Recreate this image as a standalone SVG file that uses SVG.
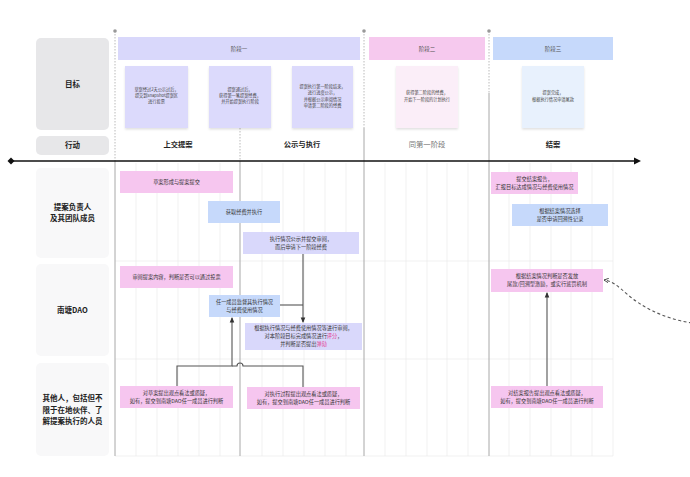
<svg xmlns="http://www.w3.org/2000/svg" width="690" height="477" viewBox="0 0 690 477">
<style>
text{font-family:"Noto Sans CJK SC","Noto Sans",sans-serif;fill:#333;text-anchor:middle}
.t{font-size:5.2px}
.c{font-size:4.2px;fill:#444}
.h{font-size:5.5px;fill:#555}
.lab{font-size:7.5px;font-weight:bold;fill:#222}
.act{font-size:7.3px;font-weight:bold;fill:#222}
.grid{stroke:#ebebeb;stroke-width:0.7}
.div{stroke:#a8a8a8;stroke-width:1}
.dot{stroke:#a8a8a8;stroke-width:0.8;stroke-dasharray:1.5 1.5}
.pink{fill:#f6c6ef}
.blue{fill:#c6d9fb}
.lav{fill:#d9d8fb}
.conn{fill:none;stroke:#555;stroke-width:1.1}
.red{fill:#e2398f}
</style>
<defs>
<marker id="ah" viewBox="0 0 6 6" refX="5" refY="3" markerWidth="5" markerHeight="5" orient="auto"><path d="M0,0.5 L6,3 L0,5.5 Z" fill="#333"/></marker>
<marker id="ah2" viewBox="0 0 6 6" refX="5" refY="3" markerWidth="5" markerHeight="5" orient="auto"><path d="M0,0.5 L5,3 L0,5.5" fill="none" stroke="#333" stroke-width="0.9"/></marker>
<filter id="sh" x="-20%" y="-20%" width="140%" height="140%"><feDropShadow dx="0" dy="1.5" stdDeviation="1.2" flood-color="#000" flood-opacity="0.12"/></filter>
</defs>
<rect width="690" height="477" fill="#fff"/>

<g id="grid">
<path class="grid" d="M136,163V456M157,163V456M178,163V456M199,163V456M220,163V456M262,163V456M283,163V456M304,163V456M325,163V456M346,163V456M385,163V456M406,163V456M427,163V456M447,163V456M468,163V456M509,163V456M530,163V456M551,163V456M571,163V456M592,163V456M613,163V456"/>
<path class="grid" d="M115,261H613M115,359H613M115,456H613"/>
</g>

<g id="dividers">
<line class="dot" x1="115" y1="31" x2="115" y2="161"/>
<line class="div" x1="115" y1="161" x2="115" y2="456"/>
<line class="dot" x1="240" y1="128" x2="240" y2="161"/>
<line class="div" x1="240" y1="161" x2="240" y2="456"/>
<line class="dot" x1="364" y1="31" x2="364" y2="128"/>
<line class="div" x1="364" y1="128" x2="364" y2="456"/>
<line class="dot" x1="489" y1="31" x2="489" y2="93"/>
<line class="div" x1="489" y1="93" x2="489" y2="456"/>
<circle cx="115" cy="31" r="1.8" fill="#999"/>
<circle cx="364" cy="31" r="1.8" fill="#999"/>
<circle cx="489" cy="31" r="1.8" fill="#999"/>
</g>

<g id="axis">
<line x1="11" y1="161" x2="636" y2="161" stroke="#111" stroke-width="1.4"/>
<path d="M11,157.5 L14.5,161 L11,164.5 L7.5,161 Z" fill="#111"/>
<path d="M634,157.5 L641,161 L634,164.5 Z" fill="#111"/>
</g>

<g id="row-goal"><rect x="36" y="38" width="73" height="92" rx="5" fill="#e7e7e9"/><text class="lab" x="72.5" y="87">目标</text></g>
<g id="row-action"><rect x="36" y="136" width="73" height="19" rx="5" fill="#e7e7e9"/><text class="lab" x="72.5" y="148">行动</text></g>
<g id="lane1"><rect x="36" y="168" width="73" height="90" rx="5" fill="#f8f8f9"/><text class="lab" x="72.5" y="210">提案负责人</text><text class="lab" x="72.5" y="221">及其团队成员</text></g>
<g id="lane2"><rect x="36" y="264" width="73" height="92" rx="5" fill="#f8f8f9"/><text class="lab" x="72.5" y="313">南塘DAO</text></g>
<g id="lane3"><rect x="36" y="363" width="73" height="93" rx="5" fill="#f8f8f9"/><text class="lab" x="72.5" y="401">其他人，包括但不</text><text class="lab" x="72.5" y="413">限于在地伙伴、了</text><text class="lab" x="72.5" y="424">解提案执行的人员</text></g>

<g id="phase1"><rect x="118" y="37" width="242" height="23" fill="#d9d8fb"/><text class="h" x="239" y="50.5">阶段一</text></g>
<g id="phase2"><rect x="369" y="37" width="116" height="23" fill="#f6c9ee"/><text class="h" x="427" y="50.5">阶段二</text></g>
<g id="phase3"><rect x="493" y="37" width="120" height="23" fill="#c6d9fb"/><text class="h" x="553" y="50.5">阶段三</text></g>

<g id="goal1"><rect x="125" y="66" width="63" height="62" fill="#dcdafc" filter="url(#sh)"/><text class="c"><tspan x="156.5" y="91">草案经过2天公示过后，</tspan><tspan x="156.5" y="97">提交到snapshot提案区</tspan><tspan x="156.5" y="103">进行投票</tspan></text></g>
<g id="goal2"><rect x="209" y="66" width="62" height="62" fill="#dcdafc" filter="url(#sh)"/><text class="c"><tspan x="240" y="91">提案通过后，</tspan><tspan x="240" y="97">获得第一笔提案经费，</tspan><tspan x="240" y="103">并开始提案执行阶段</tspan></text></g>
<g id="goal3"><rect x="292" y="66" width="61" height="62" fill="#dcdafc" filter="url(#sh)"/><text class="c"><tspan x="322.5" y="88">提案执行第一阶段结束，</tspan><tspan x="322.5" y="94">进行进度公示，</tspan><tspan x="322.5" y="101">并根据公示审阅情况</tspan><tspan x="322.5" y="107">申请第二阶段的经费</tspan></text></g>
<g id="goal4"><rect x="396" y="66" width="62" height="62" fill="#fbeef8" filter="url(#sh)"/><text class="c"><tspan x="427" y="94">获得第二阶段的经费，</tspan><tspan x="427" y="101">开始下一阶段的计划执行</tspan></text></g>
<g id="goal5"><rect x="522" y="66" width="62" height="62" fill="#e8f1fd" filter="url(#sh)"/><text class="c"><tspan x="553" y="94">提案完成，</tspan><tspan x="553" y="101">根据执行情况申请尾款</tspan></text></g>

<g id="actions">
<text class="act" x="178" y="147">上交提案</text>
<text class="act" x="302" y="147">公示与执行</text>
<text class="act" x="427" y="147" style="fill:#777;font-weight:normal">同第一阶段</text>
<text class="act" x="553" y="147">结案</text>
</g>

<g id="connectors">
<path class="conn" d="M303,254V322" marker-end="url(#ah)"/>
<path class="conn" d="M280,305H303"/>
<path class="conn" d="M177,386V366H232V318" marker-end="url(#ah)"/>
<path class="conn" d="M303,387V366H243A3,3 0 0 0 237,366H232"/>
<path class="conn" d="M547,386V293" marker-end="url(#ah)"/>
<path class="conn" d="M692,323C660,318 640,305 628,295C618,286 612,281 604,280" stroke-dasharray="3 2.5" marker-end="url(#ah2)"/>
</g>

<g id="n1"><rect class="pink" x="120" y="171" width="113" height="22"/><text class="t" x="176.5" y="184">草案形成与提案提交</text></g>
<g id="n2"><rect class="blue" x="208" y="201" width="72" height="22"/><text class="t" x="244" y="214">获取经费并执行</text></g>
<g id="n3"><rect class="lav" x="243" y="232" width="116" height="22"/><text class="t"><tspan x="301" y="241">执行情况公示并提交审阅，</tspan><tspan x="301" y="249">而后申请下一阶段经费</tspan></text></g>
<g id="n4"><rect class="pink" x="491" y="172" width="87" height="22"/><text class="t"><tspan x="534.5" y="181">提交结案报告，</tspan><tspan x="534.5" y="189">汇报目标达成情况与经费使用情况</tspan></text></g>
<g id="n5"><rect class="blue" x="512" y="204" width="96" height="22"/><text class="t"><tspan x="560" y="213">根据结案情况选择</tspan><tspan x="560" y="221">是否申请回溯性记录</tspan></text></g>
<g id="n6"><rect class="pink" x="120" y="266" width="113" height="22"/><text class="t" x="176.5" y="279">审阅提案内容，判断是否可以通过投票</text></g>
<g id="n7"><rect class="blue" x="209" y="295" width="71" height="22"/><text class="t"><tspan x="244.5" y="304">任一成员监督其执行情况</tspan><tspan x="244.5" y="312">与经费使用情况</tspan></text></g>
<g id="n8"><rect class="lav" x="245" y="323" width="117" height="27"/><text class="t"><tspan x="303.5" y="330">根据执行情况与经费使用情况等进行审阅，</tspan><tspan x="303.5" y="338">对本阶段目标完成情况进行<tspan class="red">评分</tspan>，</tspan><tspan x="303.5" y="346">并判断是否提出<tspan class="red">弹劾</tspan></tspan></text></g>
<g id="n9"><rect class="pink" x="491" y="269" width="112" height="23"/><text class="t"><tspan x="547" y="278">根据结案情况判断是否发放</tspan><tspan x="547" y="286">尾款/回溯型激励，或实行惩罚机制</tspan></text></g>
<g id="n10"><rect class="pink" x="120" y="386" width="113" height="22"/><text class="t"><tspan x="176.5" y="395">对草案提出观点看法或质疑，</tspan><tspan x="176.5" y="403">如有，提交到南塘DAO任一成员进行判断</tspan></text></g>
<g id="n11"><rect class="pink" x="247" y="387" width="113" height="22"/><text class="t"><tspan x="303.5" y="396">对执行过程提出观点看法或质疑，</tspan><tspan x="303.5" y="404">如有，提交到南塘DAO任一成员进行判断</tspan></text></g>
<g id="n12"><rect class="pink" x="491" y="386" width="112" height="22"/><text class="t"><tspan x="547" y="395">对结案报告提出观点看法或质疑，</tspan><tspan x="547" y="403">如有，提交到南塘DAO任一成员进行判断</tspan></text></g>
</svg>
